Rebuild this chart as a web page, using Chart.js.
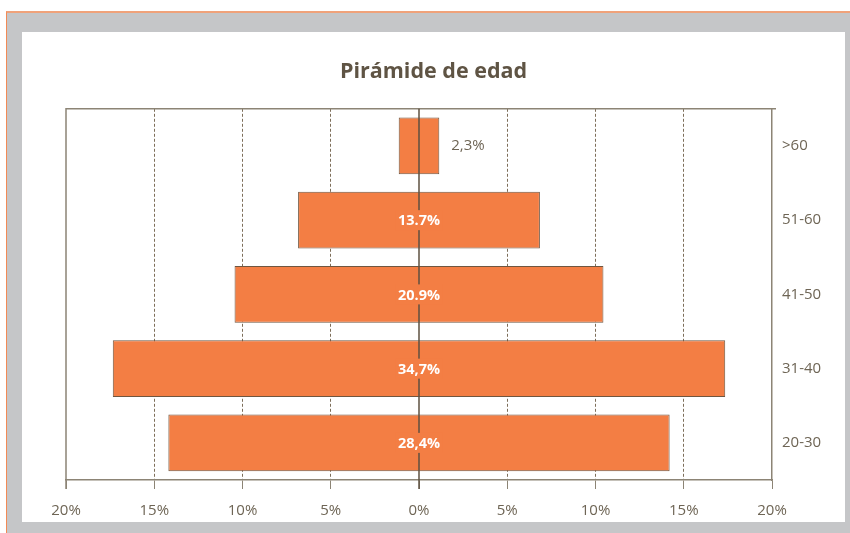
<!DOCTYPE html>
<html>
<head>
<meta charset="utf-8">
<script src="https://cdn.jsdelivr.net/npm/chart.js@4.4.0/dist/chart.umd.min.js"></script>
<style>
  html, body { margin:0; padding:0; background:#fff; }
  #frame {
    position:absolute; left:6px; top:11px; width:844px; height:522px;
    background:#c5c6c8; border-top:2px solid #f0a27a; border-left:1px solid #f28a55;
    box-sizing:border-box;
  }
  #box {
    position:absolute; left:22px; top:32px; width:823px; height:490px; background:#fff;
  }
</style>
</head>
<body>
<div id="frame"></div>
<div id="box"><canvas id="piramide" width="823" height="490"></canvas></div>
<script>
// datos de la pirámide
const grupos = ['>60', '51-60', '41-50', '31-40', '20-30'];
const porcentajes = [2.3, 13.7, 20.9, 34.7, 28.4];
const etiquetas = ['2,3%', '13.7%', '20.9%', '34,7%', '28,4%'];
const ticksX = [-20, -15, -10, -5, 0, 5, 10, 15, 20];

const naranja = '#f37e44';
const textoGris = '#6e6555';
const lineaEje = '#8c8475';

// cada barra centrada en 0
const barras = porcentajes.map(v => [-v/2, v/2]);

const extrasPiramide = {
    id: 'extrasPiramide',
    beforeDatasetsDraw(chart){
        const {ctx, chartArea} = chart;
        ctx.save();
        ctx.strokeStyle = lineaEje;
        ctx.lineWidth = 1.5;
        ctx.beginPath();
        ctx.moveTo(chartArea.left, chartArea.bottom + 9);
        ctx.lineTo(chartArea.left, chartArea.top);
        ctx.lineTo(chartArea.right + 4, chartArea.top);
        ctx.stroke();
        ctx.restore();
    },
    afterDatasetsDraw(chart){
        const {ctx, chartArea} = chart;
        const x = chart.scales.x;
        const x0 = x.getPixelForValue(0);
        ctx.save();
        ctx.strokeStyle = '#5e5040';
        ctx.lineWidth = 1.5;
        ctx.beginPath();
        ctx.moveTo(x0, chartArea.top);
        ctx.lineTo(x0, chartArea.bottom + 9);
        ctx.stroke();

        const meta = chart.getDatasetMeta(0);
        ctx.textBaseline = 'middle';
        meta.data.forEach((bar, i)=>{
            const txt = etiquetas[i];
            const right = x.getPixelForValue(barras[i][1]);
            const left = x.getPixelForValue(barras[i][0]);
            if(right - left < 60){
                ctx.font = '15px "Open Sans"';
                ctx.fillStyle = textoGris;
                ctx.textAlign = 'left';
                ctx.fillText(txt, right + 12, bar.y);
            } else {
                ctx.font = 'bold 14.5px "Open Sans"';
                const w = ctx.measureText(txt).width;
                ctx.fillStyle = naranja;
                ctx.fillRect(x0 - w/2 - 2, bar.y - 10, w + 4, 20);
                ctx.fillStyle = '#fff';
                ctx.textAlign = 'center';
                ctx.fillText(txt, x0, bar.y + 1);
            }
        });
        ctx.restore();
    }
};

new Chart(document.getElementById('piramide'), {
    type: 'bar',
    data: {
        labels: grupos,
        datasets: [{
            data: barras,
            backgroundColor: naranja,
            borderColor: '#6f5640',
            borderWidth: 1,
            borderSkipped: false,
            barPercentage: 0.765,
            categoryPercentage: 1
        }]
    },
    options: {
        indexAxis: 'y',
        responsive: false,
        animation: false,
        layout: { padding: 0 },
        plugins: {
            legend: { display: false },
            tooltip: { enabled: false },
            title: {
                display: true,
                text: 'Pirámide de edad',
                color: '#5f5444',
                font: { family: 'Open Sans', size: 21.5, weight: 'bold' },
                padding: { top: 27, bottom: 24 }
            }
        },
        scales: {
            x: {
                min: -20, max: 20,
                afterBuildTicks: s => { s.ticks = ticksX.map(v => ({value: v})); },
                afterFit: s => { s.height = 42; },
                ticks: {
                    color: textoGris,
                    padding: 13,
                    font: { family: 'Open Sans', size: 15 },
                    callback: v => Math.abs(v) + '%'
                },
                grid: {
                    color: c => (c.tick && (c.tick.value === 0 || Math.abs(c.tick.value) === 20)) ? 'rgba(0,0,0,0)' : '#7d6e5a',
                    tickColor: lineaEje,
                    tickLength: 9,
                    lineWidth: 1
                },
                border: { display: true, color: lineaEje, width: 1.5, dash: [3, 2] }
            },
            y: {
                position: 'right',
                afterFit: s => { s.width = 73; },
                ticks: {
                    color: textoGris,
                    padding: 10,
                    crossAlign: 'near',
                    font: { family: 'Open Sans', size: 15 }
                },
                grid: { display: false, drawTicks: false },
                border: { display: true, color: lineaEje, width: 1.5 }
            },
            // eje vacío a la izquierda, solo reserva el margen
            margenIzq: {
                type: 'category',
                position: 'left',
                afterFit: s => { s.width = 44; },
                ticks: { display: false },
                grid: { display: false, drawTicks: false },
                border: { display: false }
            }
        }
    },
    plugins: [extrasPiramide]
});
</script>
</body>
</html>
